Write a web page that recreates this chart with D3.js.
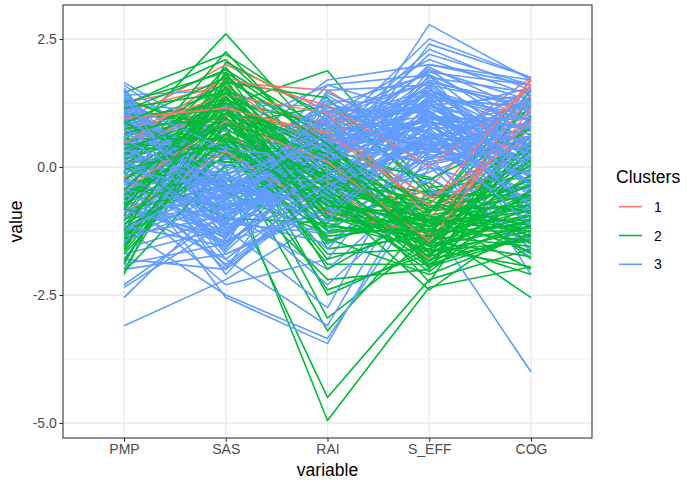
<!DOCTYPE html>
<html>
<head>
<meta charset="utf-8">
<script src="https://cdn.jsdelivr.net/npm/d3@7"></script>
<style>
  body { margin: 0; background: #fff; }
  text { font-family: "Liberation Sans", Arial, sans-serif; }
</style>
</head>
<body>
<svg id="mainSvg" width="687" height="484"></svg>
<script>
// variables (x axis categories)
const variables = ["PMP", "SAS", "RAI", "S_EFF", "COG"];
const clusterNames = ["1", "2", "3"];
const yTicks = [2.5, 0, -2.5, -5];
const yMinor = [1.25, -1.25, -3.75];

// each row: PMP, SAS, RAI, S_EFF, COG
const cluster1 = [
  [1.25, 1.65, 1.5, 0.3, 1.75],
  [0.9, 2.0, 1.1, -0.4, 1.6],
  [0.3, 1.3, 0.85, -0.9, 1.2],
  [-0.7, 1.2, 0.5, -1.2, 1.0],
  [0.1, 0.2, 0.95, 0.35, 0.4],
  [1.1, 1.6, 0.2, -1.5, 0.8],
  [-0.2, 0.6, -0.3, -1.8, 1.75],
  [0.5, 1.0, 0.7, -0.6, 0.6],
  [-0.9, 0.3, -0.9, -1.3, 1.4],
  [0.7, 1.4, 1.05, -1.0, 0.9],
  [0.45, 1.75, 1.2, 0.0, 1.55],
  [-0.45, 0.9, 0.1, -1.45, 1.15],
  [0.95, 1.15, 0.65, -0.75, 1.7]
];

const cluster2 = [
  [0.5, 2.6, 0.4, -0.8, 0.2],
  [0.9, 1.2, 1.88, -0.5, 0.0],
  [-1.2, 0.0, -4.95, -2.35, -1.95],
  [0.3, -0.3, -4.5, -2.2, -1.6],
  [-0.5, 0.3, -3.2, -1.0, -0.5],
  [-1.8, 0.8, -2.95, -1.4, 0.2],
  [0.6, 1.0, -2.5, -1.6, -0.9],
  [-1.0, 0.5, -1.9, -1.9, -1.3],
  [1.45, 2.2, 0.9, -1.2, -2.55],
  [-2.1, 2.05, 1.0, -0.9, 1.7],
  [1.2, 2.1, 0.3, -1.7, -0.6],
  [-0.3, 1.95, -0.4, -0.7, 0.6],
  [0.0, 1.8, 0.1, -1.3, -1.1],
  [-1.5, 1.7, 0.6, -2.0, 0.9],
  [0.8, 1.5, -0.8, -1.5, -0.3],
  [-0.8, 1.4, -1.2, -0.3, -1.8],
  [0.2, 1.3, 0.8, -0.9, 1.2],
  [-2.0, 1.2, -0.1, -1.1, -0.8],
  [1.0, 1.1, -1.5, -0.6, 0.4],
  [-0.6, 1.0, 0.5, -1.8, -1.4],
  [0.4, 0.9, -0.6, -2.4, -1.0],
  [-1.4, 0.8, 1.2, -0.4, -0.2],
  [1.3, 0.7, -1.0, -1.25, 0.8],
  [-0.2, 0.6, -1.7, -1.6, -1.95],
  [0.7, 0.5, 0.2, -0.2, -1.5],
  [-1.7, 0.4, -0.9, -0.8, 0.1],
  [-0.9, 0.2, -0.5, -1.9, -0.7],
  [0.1, 0.1, 0.0, -1.45, -2.1],
  [-1.1, -0.2, -2.2, -2.0, 1.0],
  [0.9, -0.5, -1.3, -1.0, -1.2],
  [-0.4, -0.8, -0.2, -0.5, -0.9],
  [-1.9, 1.6, -0.7, -1.3, 0.5],
  [1.1, 1.9, 0.7, -0.6, -0.4],
  [-0.7, 1.25, -1.4, -2.1, -1.3],
  [0.5, 0.75, -0.3, -0.9, 1.5],
  [-1.3, 0.45, -2.4, -1.7, -0.6],
  [0.2, 1.55, -0.9, -1.15, 0.3],
  [-0.1, 2.25, 0.15, -1.55, -1.15],
  [-1.6, 0.95, -1.0, -0.45, -1.7],
  [0.65, 1.35, -0.05, -2.25, 0.65],
  [-0.35, 0.15, 0.45, -1.05, -0.25],
  [1.35, 0.55, -0.55, -0.75, -0.85],
  [-1.05, 1.75, -1.6, -1.35, 1.35],
  [0.0, -1.0, -1.1, -1.6, -0.45],
  [-0.55, 1.05, 0.65, -1.95, -1.0],
  [0.35, 0.35, -1.25, -0.95, -2.0],
  [-1.25, 1.45, 0.35, -0.25, 0.75],
  [1.05, 0.85, -0.75, -1.4, -0.15],
  [-0.85, -0.35, -0.45, -1.75, 0.95],
  [0.45, 1.65, 1.35, -0.55, -0.55],
  [-1.55, 0.65, -1.8, -1.2, -1.45],
  [0.85, 0.25, -0.15, -1.85, 0.15],
  [-0.25, 1.15, -2.0, -0.85, -0.05],
  [1.25, 1.85, 0.55, -1.5, 0.45],
  [-2.05, 0.05, -0.35, -1.05, -1.25],
  [-0.65, 1.05, -0.65, -1.15, -0.75],
  [0.15, 0.75, -0.35, -1.45, -1.05],
  [-1.15, 1.35, 0.15, -0.85, -0.35],
  [0.55, 0.55, -0.95, -1.65, -1.25],
  [-0.45, 1.55, -0.15, -1.25, 0.15],
  [-1.45, 0.85, -0.55, -1.55, -0.95],
  [0.95, 1.25, 0.25, -0.95, -0.55],
  [-0.75, 0.45, -1.15, -1.35, -1.55],
  [0.25, 1.45, -0.45, -1.75, -0.15],
  [-1.65, 0.65, -0.25, -0.65, -1.35],
  [-0.15, 1.15, -0.75, -1.05, -0.65],
  [0.75, 0.95, 0.05, -1.45, -1.75],
  [-0.95, 1.65, -0.35, -1.85, -0.45],
  [-1.35, 0.25, -1.35, -1.15, -0.85],
  [0.05, 1.25, 0.35, -0.75, -1.15],
  [-0.55, 0.65, -0.85, -1.55, 0.35],
  [1.15, 1.45, -0.25, -1.25, -0.95],
  [-1.85, 1.05, 0.05, -1.05, -0.25],
  [0.45, 0.35, -0.65, -1.95, -1.35],
  [-0.85, 1.85, -0.95, -1.45, -0.55],
  [-0.25, 0.85, 0.25, -1.65, -1.45],
  [0.65, 1.15, -1.45, -0.85, -0.75],
  [-1.05, 0.55, -0.15, -1.35, 0.05],
  [-0.45, 1.35, -1.05, -1.05, -1.05],
  [0.35, 1.05, 0.15, -1.15, -0.35],
  [-1.55, 1.15, -0.45, -1.75, -1.15],
  [-0.05, 0.45, -0.75, -0.95, -1.65],
  [0.85, 1.75, 0.45, -1.35, -0.85],
  [-0.75, 0.95, -0.55, -2.05, -0.45],
  [-1.25, 1.55, -1.25, -1.25, -1.25]
];

const cluster3 = [
  [-3.1, -2.2, -1.0, 0.5, 0.2],
  [-2.55, -0.6, 0.3, 1.2, 0.7],
  [1.65, 0.5, -0.2, 2.78, 1.7],
  [0.9, -0.3, 0.6, 2.5, 1.75],
  [-0.2, -1.0, 1.0, 2.1, 1.4],
  [0.4, 0.2, 1.7, 2.0, 1.6],
  [1.2, -0.5, 1.6, 1.8, 0.9],
  [-0.8, -1.5, 1.5, 1.6, 1.2],
  [0.1, -2.55, -3.45, 0.0, -0.6],
  [-1.2, -2.5, -3.35, -0.4, -1.5],
  [0.6, -1.8, -3.1, 0.3, 0.1],
  [-1.7, -1.2, -2.75, 0.8, -0.3],
  [0.3, -0.7, -0.8, -1.05, -4.0],
  [-2.3, -0.9, 0.1, 1.0, -2.1],
  [1.4, 1.5, 0.8, 1.4, 1.0],
  [-1.8, -2.0, -0.5, 1.5, 0.5],
  [0.8, -0.4, 0.4, 0.9, 0.3],
  [-0.5, -1.1, 0.9, 1.1, -0.2],
  [1.0, 0.0, -0.3, 0.6, 1.1],
  [-1.0, -0.8, 0.2, 1.3, -0.8],
  [0.2, -1.4, 1.2, 0.4, 0.6],
  [1.3, 0.3, 0.0, 1.7, -0.4],
  [-0.3, -0.2, -1.2, 0.2, 0.8],
  [0.6, -1.6, 0.5, 1.9, 1.3],
  [-1.4, -0.5, -0.6, 0.7, -1.2],
  [0.0, 0.8, 0.7, 1.0, 0.0],
  [1.1, -1.0, -1.5, 0.1, 0.4],
  [-0.7, -1.3, 0.3, 1.6, -1.7],
  [0.5, 0.4, 1.1, 0.5, 1.5],
  [-2.0, -1.7, -0.9, 0.9, -0.9],
  [1.5, -0.6, 0.9, 1.2, 0.2],
  [-0.9, 0.1, -0.1, 0.3, 1.0],
  [0.3, -0.9, -2.0, -0.2, -1.4],
  [1.2, 1.1, 0.4, 2.2, 1.6],
  [-0.4, -1.9, -0.4, 1.4, 0.9],
  [0.9, -0.1, 1.3, 0.0, -0.6],
  [-1.3, -0.3, 0.6, 0.8, 1.2],
  [0.1, -1.2, -0.7, 1.8, 0.3],
  [1.0, 0.6, -0.5, 1.1, -1.0],
  [-0.6, -2.3, -1.8, 0.6, -0.1],
  [0.7, -0.7, 0.1, 2.0, 1.7],
  [-1.6, -1.0, 0.8, 0.4, -0.5],
  [1.6, 0.2, 0.2, 1.5, 0.7],
  [-0.1, -1.5, 1.4, 0.2, -1.8],
  [0.4, -0.2, -1.1, 1.3, 0.5],
  [-1.1, -0.8, -0.2, -0.3, 1.4],
  [1.3, -1.3, 0.7, 0.9, -0.3],
  [-0.2, 0.9, -0.9, 1.6, 0.1],
  [0.8, -0.5, 1.0, 0.7, -0.7],
  [-2.35, -1.1, -1.3, 1.2, 0.4],
  [0.2, -0.4, 0.5, 2.3, 1.5],
  [-0.8, -1.8, -0.3, 0.5, -1.1],
  [1.1, 0.7, 1.6, 1.0, 0.8],
  [-0.4, -0.6, -2.3, -0.5, -0.4],
  [0.6, -2.1, 0.0, 1.7, 1.1],
  [-1.5, 0.4, 0.4, 0.1, -1.3],
  [1.4, -0.9, -0.6, 1.9, 0.6],
  [-0.3, -1.4, 1.1, 1.1, -0.9],
  [0.0, -0.1, -1.6, 0.4, 1.3],
  [0.9, -1.2, 0.3, 0.8, -0.2],
  [-1.0, 0.0, 0.9, 1.5, 0.9],
  [0.5, -1.7, -0.8, 0.0, -1.6],
  [1.2, -0.3, 0.6, 1.3, 1.2],
  [-0.6, -0.6, -0.4, 0.6, 0.2],
  [0.3, 1.2, 1.2, 1.8, -0.5],
  [-1.9, -1.5, 0.1, 1.0, 0.0],
  [1.0, -0.8, -1.3, 0.3, 0.9],
  [-0.2, -2.0, 0.8, 1.4, -1.0],
  [0.7, 0.3, -0.2, 2.4, 1.75],
  [-1.2, -0.4, -0.7, -0.1, 0.6],
  [1.55, -1.1, 0.5, 0.9, -0.8],
  [-0.5, -0.3, 1.3, 1.2, 1.4],
  [0.95, -0.45, 0.25, 0.95, 0.45],
  [0.45, -0.85, -0.35, 0.55, 1.05],
  [-0.65, -1.25, 0.55, 1.15, 0.25],
  [1.25, -0.15, 0.85, 1.45, -0.35],
  [0.15, -0.95, -0.15, 0.75, 0.85],
  [-0.95, -0.55, 0.35, 0.35, -0.65],
  [0.75, -1.35, 0.95, 1.65, 1.25],
  [1.45, -0.75, -0.45, 0.15, 0.55],
  [-0.35, -0.25, 0.75, 1.25, -0.15],
  [0.55, -1.65, 0.15, 0.85, 0.95],
  [1.05, 0.15, 1.15, 1.05, 1.55],
  [-1.35, -0.95, -0.25, 0.45, 0.15],
  [0.25, -0.65, 0.45, 1.55, -0.85],
  [0.85, -1.05, -0.65, 0.65, 0.35],
  [-0.15, -0.35, 0.05, 1.35, 1.15],
  [1.35, -0.55, 0.65, 0.25, -0.25],
  [-0.75, -1.45, -0.85, 0.95, 0.75],
  [0.65, 0.05, 0.25, 1.75, 1.45],
  [1.15, -1.15, 1.45, 0.55, -0.55],
  [-0.45, -0.75, -0.55, 1.05, 0.05],
  [0.35, -0.45, 0.85, 0.35, 1.35],
  [-1.15, -1.55, 0.15, 1.25, -0.45],
  [0.05, -0.15, -0.95, 0.85, 0.65],
  [1.5, -0.85, 0.35, 1.95, 1.05],
  [-0.55, -1.05, 1.25, 0.65, -1.15],
  [0.95, -0.25, -0.25, 1.15, 0.25],
  [-1.45, -0.65, 0.55, 0.05, 0.45],
  [0.45, -1.95, -0.45, 1.35, -0.05],
  [1.25, 0.35, 0.15, 0.45, 0.85],
  [-0.25, -0.85, 0.95, 1.85, 1.6],
  [0.75, -0.35, -1.05, 0.75, -0.75],
  [-0.85, -1.35, 0.25, 1.45, 0.35],
  [1.05, -0.65, 0.75, 0.15, 1.25],
  [0.15, -1.15, -0.15, 1.05, -0.35],
  [-1.25, -0.15, 0.45, 0.95, 0.95],
  [0.55, -0.55, 1.05, 1.65, 0.15],
  [1.4, -1.45, -0.35, 0.35, -0.15],
  [-0.05, -0.45, 0.65, 0.55, 0.55]
];

const clusterColors = ["#F8766D", "#00BA38", "#619CFF"];

let svg = d3.select("#mainSvg");
const panel = {left: 63, right: 592, top: 5, bottom: 438};

const x = d3.scalePoint()
    .domain(variables)
    .range([panel.left, panel.right])
    .padding(0.6);

const y = d3.scaleLinear()
    .domain([-5.293, 3.164])
    .range([panel.bottom, panel.top]);

const color = d3.scaleOrdinal().domain(clusterNames).range(clusterColors);

// rows in draw order (clusters spread through one another)
let rows = [];
[cluster1, cluster2, cluster3].forEach((list, ci) => {
    list.forEach((vals, i) => {
        rows.push({cluster: clusterNames[ci], vals: vals, key: (i + 0.5) / list.length + ci * 0.001});
    });
});
rows.sort((a, b) => a.key - b.key);

// grid
const grid = svg.append("g");
grid.selectAll(".minor").data(yMinor).join("line")
    .attr("x1", panel.left).attr("x2", panel.right)
    .attr("y1", d => y(d)).attr("y2", d => y(d))
    .attr("stroke", "#ebebeb").attr("stroke-width", 0.7);
grid.selectAll(".major").data(yTicks).join("line")
    .attr("x1", panel.left).attr("x2", panel.right)
    .attr("y1", d => y(d)).attr("y2", d => y(d))
    .attr("stroke", "#ebebeb").attr("stroke-width", 1.4);
grid.selectAll(".vmajor").data(variables).join("line")
    .attr("x1", d => x(d)).attr("x2", d => x(d))
    .attr("y1", panel.top).attr("y2", panel.bottom)
    .attr("stroke", "#ebebeb").attr("stroke-width", 1.4);

// lines
const line = d3.line()
    .x((d, i) => x(variables[i]))
    .y(d => y(d));

svg.append("g").selectAll("path").data(rows).join("path")
    .attr("d", d => line(d.vals))
    .attr("fill", "none")
    .attr("stroke", d => color(d.cluster))
    .attr("stroke-width", 1.6)
    .attr("stroke-linejoin", "round");

// border
svg.append("rect")
    .attr("x", panel.left).attr("y", panel.top)
    .attr("width", panel.right - panel.left).attr("height", panel.bottom - panel.top)
    .attr("fill", "none").attr("stroke", "#333333").attr("stroke-width", 1.1);

// axes
const yAxis = svg.append("g")
    .attr("transform", `translate(${panel.left},0)`)
    .call(d3.axisLeft(y).tickValues(yTicks).tickSize(3.7).tickPadding(2.5));
const xAxis = svg.append("g")
    .attr("transform", `translate(0,${panel.bottom})`)
    .call(d3.axisBottom(x).tickSize(3.7).tickPadding(2.5));
[yAxis, xAxis].forEach(a => {
    a.select(".domain").remove();
    a.selectAll(".tick line").attr("stroke", "#333333").attr("stroke-width", 1.1);
    a.selectAll(".tick text").attr("fill", "#4d4d4d").attr("font-size", "14px")
        .attr("font-family", "Liberation Sans, Arial, sans-serif");
});
yAxis.selectAll(".tick text").text(d => d.toFixed(1));

svg.append("text")
    .text("variable")
    .attr("x", (panel.left + panel.right) / 2)
    .attr("y", 476)
    .attr("text-anchor", "middle")
    .attr("font-size", "17.5px")
    .attr("fill", "black");

svg.append("text")
    .text("value")
    .attr("transform", `translate(22,${(panel.top + panel.bottom) / 2}) rotate(-90)`)
    .attr("text-anchor", "middle")
    .attr("font-size", "17.5px")
    .attr("fill", "black");

// legend
const legend = svg.append("g").attr("transform", "translate(613,0)");
legend.append("text")
    .text("Clusters")
    .attr("x", 3).attr("y", 183)
    .attr("font-size", "17.5px")
    .attr("fill", "black");
const keys = legend.selectAll(".key").data(clusterNames).join("g")
    .attr("transform", (d, i) => `translate(0,${206.7 + i * 28.8})`);
keys.append("line")
    .attr("x1", 6).attr("x2", 29)
    .attr("y1", 0).attr("y2", 0)
    .attr("stroke", d => color(d))
    .attr("stroke-width", 1.6);
keys.append("text")
    .text(d => d)
    .attr("x", 41).attr("y", 5)
    .attr("font-size", "14px")
    .attr("fill", "black");
</script>
</body>
</html>
